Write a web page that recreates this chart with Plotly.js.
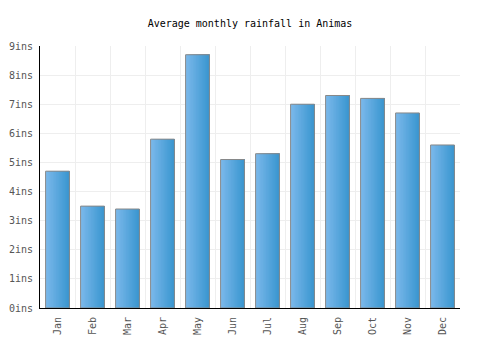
<!DOCTYPE html>
<html>
<head>
<meta charset="utf-8">
<script src="https://cdn.plot.ly/plotly-3.0.1.min.js"></script>
<style>html,body{margin:0;padding:0;background:#fff;}#chart{width:500px;height:350px;}</style>
</head>
<body>
<div id="chart"></div>
<script>
const months = ["Jan","Feb","Mar","Apr","May","Jun","Jul","Aug","Sep","Oct","Nov","Dec"];
const rainfall = [4.7, 3.5, 3.4, 5.8, 8.7, 5.1, 5.3, 7.0, 7.3, 7.2, 6.7, 5.6];
const yTickVals = [0,1,2,3,4,5,6,7,8,9];
const yTickText = ["0ins","1ins","2ins","3ins","4ins","5ins","6ins","7ins","8ins","9ins"];

const FONT = "DejaVu Sans Mono, monospace";
const barW = 0.68;
const N = 16;
const c0 = [122,184,234], c1 = [58,150,208];
const traces = [];
traces.push({type: "scatter", x: [0], y: [0], xaxis: "x2", mode: "none", hoverinfo: "skip", showlegend: false});
for (let i = 0; i < N; i++) {
  const t = i / (N - 1);
  const c = c0.map((v, k) => Math.round(v + (c1[k] - v) * t));
  const off = -barW / 2 + i * barW / N;
  traces.push({
    type: "bar", x: months, y: rainfall,
    width: barW / 2 - off, offset: off,
    marker: {color: `rgb(${c[0]},${c[1]},${c[2]})`, line: {width: 0}},
    hoverinfo: "skip", showlegend: false
  });
}
traces.push({
  type: "bar", x: months, y: rainfall,
  width: barW, offset: -barW / 2,
  marker: {color: "rgba(0,0,0,0)", line: {color: "#888888", width: 1}},
  showlegend: false
});

const layout = {
  width: 500, height: 350,
  margin: {l: 40, r: 40, t: 46, b: 42},
  paper_bgcolor: "#ffffff", plot_bgcolor: "#ffffff",
  barmode: "overlay",
  title: {text: "Average monthly rainfall in Animas", x: 0.5, xanchor: "center", y: 0.932, yanchor: "middle",
          font: {family: FONT, size: 10, color: "#000000"}},
  xaxis: {
    type: "category", range: [-0.5, 11.5],
    showgrid: false, showline: true, linecolor: "#000000", linewidth: 1,
    tickangle: -90, ticks: "", tickfont: {family: FONT, size: 10, color: "#555555"},
    zeroline: false, ticklabelstandoff: 4
  },
  xaxis2: {
    overlaying: "x", range: [-0.5, 11.5], tickvals: [-0.5,0.5,1.5,2.5,3.5,4.5,5.5,6.5,7.5,8.5,9.5,10.5,11.5],
    showgrid: true, gridcolor: "#eeeeee", gridwidth: 1, showticklabels: false, ticks: "",
    zeroline: false, showline: false, layer: "below traces"
  },
  yaxis: {
    range: [0, 9], tickvals: yTickVals, ticktext: yTickText,
    showgrid: true, gridcolor: "#eeeeee", gridwidth: 1,
    showline: true, linecolor: "#000000", linewidth: 1,
    ticks: "outside", ticklen: 4, tickcolor: "rgba(0,0,0,0)",
    tickfont: {family: FONT, size: 10, color: "#555555"},
    zeroline: false
  }
};
Plotly.newPlot("chart", traces, layout, {displayModeBar: false, staticPlot: true});
</script>
</body>
</html>
